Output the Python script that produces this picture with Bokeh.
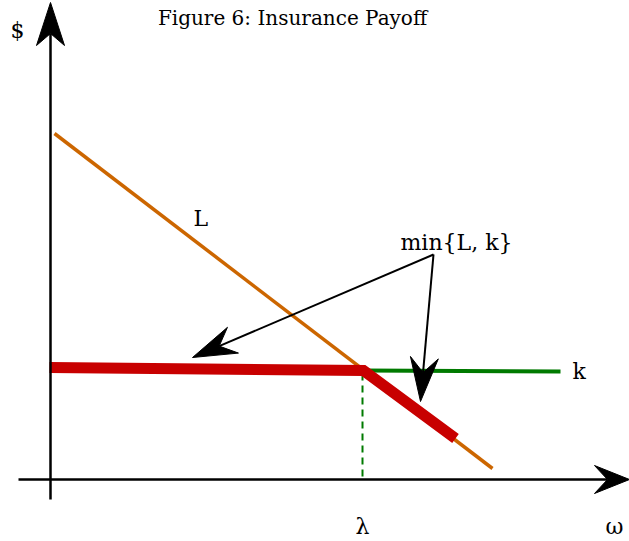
import numpy as np
from bokeh.plotting import figure
from bokeh.models import Range1d
from bokeh.core.properties import value
from bokeh.embed import file_html
from bokeh.resources import INLINE

# ---- diagram data (screen-like coordinates, y grows downward) ----
L_x = [54, 492]
L_y = [133, 468]
k_x = [363, 560]
k_y = [370, 371]
min_x = [49, 363, 455]
min_y = [367, 370, 438]
lam_x = [362, 362]
lam_y = [373, 479]

# arrows: tail, tip, head length, half width, notch position (from tip)
yaxis_arrow = dict(tail=(50, 499), tip=(50, 2), length=43, half=14, notch=31)
xaxis_arrow = dict(tail=(18, 479), tip=(629, 479), length=35, half=14, notch=22)
note_arrow1 = dict(tail=(433, 254), tip=(192, 357), length=44, half=14, notch=29)
note_arrow2 = dict(tail=(433, 254), tip=(420, 401), length=44, half=14, notch=29)

labels = ["$", "L", "min{L, k}", "k", "λ", "ω"]
label_x = [10, 193, 400, 572, 355, 605]
label_y = [30, 218, 242, 371, 526, 526]
title_text = "Figure 6: Insurance Payoff"
title_x, title_y = 292, 17

W, H = 629, 541
p = figure(width=W, height=H, output_backend="svg", toolbar_location=None,
           x_range=Range1d(0, W), y_range=Range1d(H, 0), min_border=0,
           tools="")
p.axis.visible = False
p.grid.visible = False
p.outline_line_color = None
p.background_fill_color = "white"
p.border_fill_color = "white"

SERIF = value("DejaVu Serif")

p.line(L_x, L_y, line_color="#cc6600", line_width=3.5)
p.line(k_x, k_y, line_color="#007a00", line_width=4)
p.line(lam_x, lam_y, line_color="#007a00", line_width=2, line_dash="7 5")
p.line(min_x, min_y, line_color="#c80000", line_width=11, line_join="miter")


def draw_arrow(a, width=2):
    tail = np.array(a["tail"], float)
    tip = np.array(a["tip"], float)
    d = tip - tail
    d /= np.hypot(*d)
    n = np.array([-d[1], d[0]])
    back = tip - d * a["length"]
    notch = tip - d * a["notch"]
    w1 = back + n * a["half"]
    w2 = back - n * a["half"]
    p.line([tail[0], notch[0]], [tail[1], notch[1]], line_color="black", line_width=width)
    xs = [tip[0], w1[0], notch[0], w2[0]]
    ys = [tip[1], w1[1], notch[1], w2[1]]
    p.patch(xs, ys, fill_color="black", line_color="black", line_width=1)


for a in (yaxis_arrow, xaxis_arrow):
    draw_arrow(a, width=2.5)
for a in (note_arrow1, note_arrow2):
    draw_arrow(a, width=2)

p.text(x=[title_x], y=[title_y], text=[title_text], text_font=SERIF,
       text_font_size="20px", text_align="center", text_baseline="alphabetic",
       text_color="black")
p.text(x=label_x, y=label_y, text=labels, text_font=SERIF, text_font_size="22px",
       text_align="left", text_baseline="alphabetic", text_color="black")

open("out.html", "w").write(file_html(p, INLINE))
